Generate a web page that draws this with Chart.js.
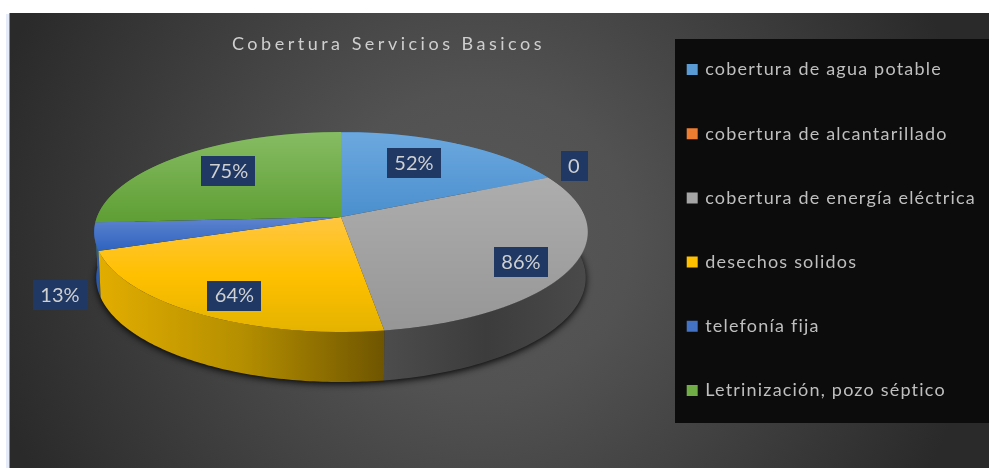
<!DOCTYPE html>
<html>
<head>
<meta charset="utf-8">
<style>html,body{margin:0;padding:0;background:#fff}canvas{display:block}</style>
<script src="https://cdn.jsdelivr.net/npm/chart.js@4"></script>
</head>
<body>
<canvas id="c" width="989" height="468"></canvas>
<script>
const chartTitle = 'Cobertura Servicios Basicos';
const categories = ['cobertura de agua potable','cobertura de alcantarillado','cobertura de energía eléctrica','desechos solidos','telefonía fija','Letrinización, pozo séptico'];
const values = [52,0,86,64,13,75];
const valueLabels = ['52%','0','86%','64%','13%','75%'];
const baseColors = ['#5b9bd5','#ed7d31','#a5a5a5','#ffc000','#4472c4','#70ad47'];
const topShades = [['#6ca8df','#4a8fce'],['#ed7d31','#ed7d31'],['#adadad','#969696'],['#ffc640','#ffc000','#e4b300'],['#5e84ce','#2d62c0'],['#86bc63','#5e9e33']];
const wallShades = [['#3a6a96'],['#a5561f'],['#4c4c4c','#3c3c3c','#4a4a4a'],['#e2ad00','#b58f00','#6f5500'],['#2c5fb4','#2a55a0'],['#4a7a2e']];
// label placement relative to each slice: shift from mid-angle (deg), radius fraction
const labelShift = [-3.9,-3,4.3,-2.5,-23.4,2.2];
const labelRadius = [0.686,1.177,0.815,0.816,1.25,0.709];

// perspective pie view
const P = -0.15;
const topFace = {cx:341, cy:217, A:244, k:97.75};
const lowFace = {cx:341, cy:262, A:242, k:102};
const project = (u,v,f) => { const s = 1/(1+P*v); return [f.cx+f.A*u*s, f.cy+f.k*v*s]; };
const rowV = (y,f) => { const d = y-f.cy; return d/(f.k-P*d); };
const hex = h => [1,3,5].map(i => parseInt(h.substr(i,2),16));
const mix = (stops,t) => {
  if (stops.length===1) return stops[0];
  const p = Math.max(0,Math.min(1,t))*(stops.length-1), i = Math.min(Math.floor(p),stops.length-2), f = p-i;
  const a = hex(stops[i]), b = hex(stops[i+1]);
  return 'rgb('+a.map((x,j)=>Math.round(x+(b[j]-x)*f)).join(',')+')';
};
const angleSamples = (a0,a1,n) => Array.from({length:n+1},(_,i)=>a0+(a1-a0)*i/n);

const backdrop = {
  id:'backdrop',
  beforeLayout(chart){
    const l = chart.legend;
    if(!l.$fitWrapped){
      l.$fitWrapped=true;
      const f=l.fit;
      l.fit=function(){this.maxHeight=1000;f.call(this);};
    }
  },
  beforeDraw(chart){
    const ctx = chart.ctx;
    ctx.save();
    ctx.fillStyle='#ffffff'; ctx.fillRect(0,0,989,468);
    ctx.fillStyle='#e6ebf9'; ctx.fillRect(6,14,4,454);
    ctx.beginPath(); ctx.rect(9.5,13,980,455); ctx.clip();
    const g = ctx.createRadialGradient(480,240,0,480,240,505);
    g.addColorStop(0,'#585858'); g.addColorStop(0.3,'#525252'); g.addColorStop(1,'#2a2a2a');
    ctx.fillStyle=g; ctx.fillRect(0,0,989,468);
    ctx.restore();
    ctx.fillStyle='#0c0c0c'; ctx.fillRect(675,39,314,384);
  },
  afterLayout(chart){
    const t = chart.titleBlock, l = chart.legend, ctx = chart.ctx;
    t.left=232; t.right=900; t.top=35;
    l.left=642; l.top=14.3; l.bottom=700;
    if(!t.$wrapped){
      t.$wrapped=true;
      const td=t.draw, ld=l.draw;
      t.draw=function(){ctx.letterSpacing='3.5px';td.call(this);ctx.letterSpacing='0px';};
      l.draw=function(){ctx.letterSpacing='1.2px';ld.call(this);ctx.letterSpacing='0px';};
    }
  },
  beforeDatasetDraw(chart,args){
    const ctx = chart.ctx, arcs = args.meta.data;
    // ground shadow
    ctx.save();
    ctx.shadowColor='rgba(0,0,0,0.9)'; ctx.shadowBlur=7; ctx.shadowOffsetY=2;
    ctx.fillStyle='#222';
    ctx.beginPath();
    angleSamples(0,Math.PI*2,180).forEach(a=>{const p=project(Math.cos(a),Math.sin(a),lowFace);ctx.lineTo(p[0],p[1]);});
    ctx.closePath(); ctx.fill();
    ctx.restore();
    // side walls, far slices first
    const midV = arc => Math.sin((arc.startAngle+arc.endAngle)/2);
    arcs.map((arc,i)=>[arc,i]).sort((a,b)=>midV(a[0])-midV(b[0])).forEach(([arc,i])=>{
      if(!arc.circumference) return;
      const pts = angleSamples(arc.startAngle,arc.endAngle,90);
      const up = pts.map(a=>project(Math.cos(a),Math.sin(a),topFace));
      const lo = pts.map(a=>project(Math.cos(a),Math.sin(a),lowFace));
      const xs = up.concat(lo).map(p=>p[0]);
      const g = ctx.createLinearGradient(Math.min(...xs),0,Math.max(...xs),0);
      const st = wallShades[i];
      st.forEach((c,j)=>g.addColorStop(st.length>1?j/(st.length-1):0,c));
      ctx.fillStyle=g;
      ctx.beginPath();
      up.forEach(p=>ctx.lineTo(p[0],p[1]));
      lo.reverse().forEach(p=>ctx.lineTo(p[0],p[1]));
      ctx.closePath(); ctx.fill();
    });
    // top face: library arcs drawn through the perspective, row by row
    const y0 = Math.round(project(0,-1,topFace)[1])-1, y1 = Math.round(project(0,1,topFace)[1])+1;
    arcs.forEach((arc,i)=>{
      if(!arc.circumference) return;
      const r = arc.outerRadius, base = arc.options;
      const samples = angleSamples(arc.startAngle,arc.endAngle,120).map(a=>project(Math.cos(a),Math.sin(a),topFace)[1]).concat([topFace.cy]);
      const sMin = Math.min(...samples), sMax = Math.max(...samples);
      for(let y=y0;y<y1;y++){
        const v0 = rowV(y,topFace), v1 = rowV(y+1,topFace);
        const s = 1/(1+P*(v0+v1)/2), sx = topFace.A*s/r, sy = 1/((v1-v0)*r);
        arc.options = Object.assign({},base,{backgroundColor:mix(topShades[i],(y-sMin)/(sMax-sMin))});
        ctx.save();
        ctx.beginPath(); ctx.rect(0,y,989,1); ctx.clip();
        ctx.setTransform(sx,0,0,sy,topFace.cx-sx*arc.x,y-(arc.y+v0*r)*sy);
        arc.draw(ctx);
        ctx.restore();
      }
      arc.options = base;
    });
    return false;
  },
  afterDatasetsDraw(chart){
    const ctx = chart.ctx, arcs = chart.getDatasetMeta(0).data;
    ctx.save();
    ctx.font='20px Lato'; ctx.textAlign='center'; ctx.textBaseline='middle';
    arcs.forEach((arc,i)=>{
      const a = (arc.startAngle+arc.endAngle)/2 + labelShift[i]*Math.PI/180;
      const p = project(labelRadius[i]*Math.cos(a),labelRadius[i]*Math.sin(a),topFace);
      const w = ctx.measureText(valueLabels[i]).width+15, h = 30;
      ctx.fillStyle='#1f3864'; ctx.fillRect(Math.round(p[0]-w/2),Math.round(p[1]-h/2),Math.round(w),h);
      ctx.fillStyle='#d0d0d0'; ctx.fillText(valueLabels[i],p[0],p[1]+0.5);
    });
    ctx.restore();
  }
};

new Chart(document.getElementById('c'),{
  type:'pie',
  data:{labels:categories,datasets:[{data:values,backgroundColor:baseColors,borderWidth:0}]},
  plugins:[backdrop],
  options:{
    responsive:false,animation:false,
    plugins:{
      tooltip:{enabled:false},
      title:{display:true,text:chartTitle,align:'start',color:'#cfcfcf',padding:0,font:{family:'Lato',size:18,lineHeight:1,weight:'normal'}},
      legend:{position:'right',align:'start',labels:{
        color:'#bfbfbf',font:{family:'Lato',size:18},boxWidth:8,boxHeight:8,padding:46.2,
        generateLabels(chart){
          return categories.map((t,i)=>({text:t,fillStyle:baseColors[i],strokeStyle:baseColors[i],lineWidth:3,fontColor:'#bfbfbf',index:i}));
        }
      }}
    }
  }
});
</script>
</body>
</html>
